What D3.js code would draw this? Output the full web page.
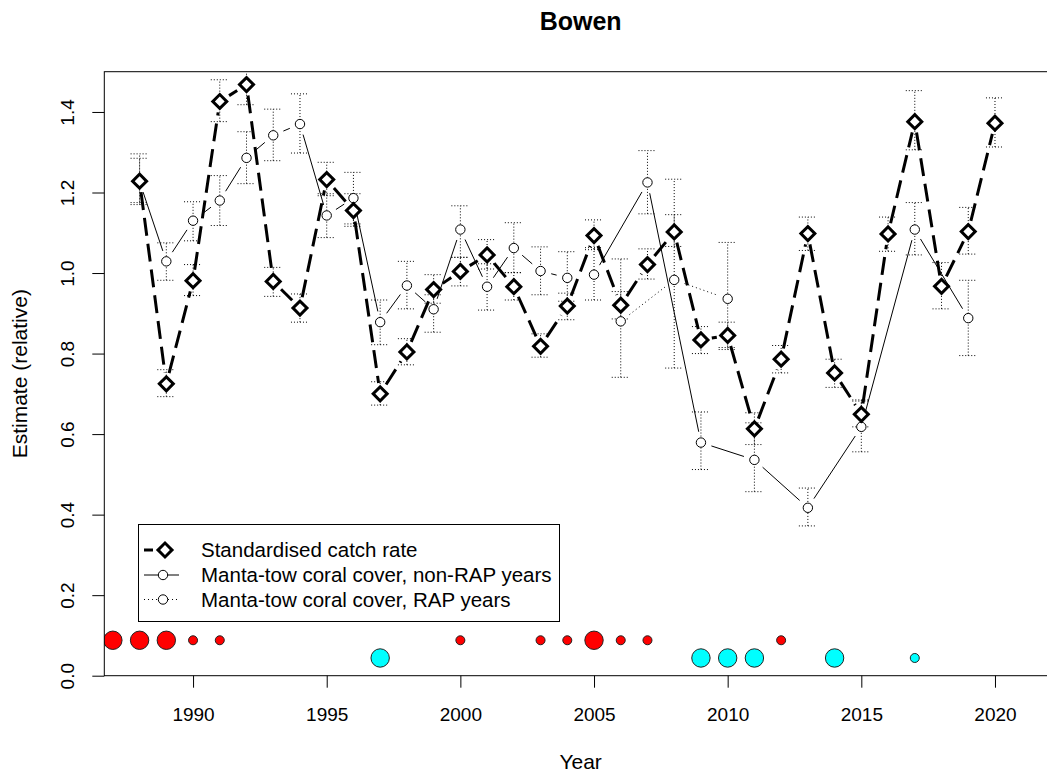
<!DOCTYPE html>
<html>
<head>
<meta charset="utf-8">
<script src="https://cdn.jsdelivr.net/npm/d3@7"></script>
<style>
  body { margin: 0; background: #fff; }
  svg { display: block; }
  text { font-family: "Liberation Sans", Arial, Helvetica, sans-serif; fill: #000; }
</style>
</head>
<body>
<svg id="chart" width="1047" height="772"></svg>
<script>
// ---- Data -------------------------------------------------------------
const catchYears = d3.range(1988, 2021);
const catchRate  = [1.228, 0.725, 0.981, 1.426, 1.468, 0.979, 0.913, 1.232, 1.155, 0.700, 0.804,
                    0.959, 1.004, 1.045, 0.966, 0.818, 0.918, 1.093, 0.920, 1.021, 1.102, 0.834,
                    0.845, 0.613, 0.786, 1.098, 0.752, 0.649, 1.097, 1.376, 0.967, 1.103, 1.372];
const catchLower = [1.175, 0.693, 0.944, 1.376, 1.418, 0.942, 0.878, 1.192, 1.116, 0.672, 0.772,
                    0.925, 0.968, 1.010, 0.933, 0.791, 0.884, 1.058, 0.886, 0.985, 1.066, 0.800,
                    0.810, 0.574, 0.752, 1.056, 0.716, 0.618, 1.054, 1.306, 0.911, 1.047, 1.313];
const catchUpper = [1.285, 0.760, 1.021, 1.480, 1.520, 1.014, 0.948, 1.275, 1.197, 0.730, 0.837,
                    0.996, 1.039, 1.083, 1.001, 0.849, 0.950, 1.132, 0.954, 1.060, 1.145, 0.867,
                    0.878, 0.653, 0.820, 1.139, 0.786, 0.682, 1.139, 1.453, 1.026, 1.163, 1.435];

const coralYears = [1988, 1989, 1990, 1991, 1992, 1993, 1994, 1995, 1996, 1997, 1998, 1999,
                    2000, 2001, 2002, 2003, 2004, 2005, 2006, 2007, 2008, 2009, 2010, 2011,
                    2013, 2015, 2017, 2019];
const coralCover = [1.227, 1.029, 1.130, 1.180, 1.286, 1.342, 1.370, 1.143, 1.186, 0.878, 0.969, 0.910,
                    1.108, 0.966, 1.062, 1.005, 0.988, 0.996, 0.880, 1.225, 0.983, 0.579, 0.936, 0.536,
                    0.417, 0.618, 1.108, 0.888];
const coralLower = [1.170, 0.982, 1.080, 1.118, 1.222, 1.279, 1.298, 1.088, 1.122, 0.822, 0.911, 0.853,
                    1.039, 0.908, 1.001, 0.946, 0.930, 0.933, 0.741, 1.147, 0.764, 0.512, 0.815, 0.457,
                    0.372, 0.556, 1.045, 0.795];
const coralUpper = [1.296, 1.075, 1.177, 1.242, 1.351, 1.407, 1.445, 1.197, 1.250, 0.933, 1.029, 0.946,
                    1.167, 1.023, 1.125, 1.065, 1.053, 1.063, 1.035, 1.304, 1.233, 0.655, 1.076, 0.628,
                    0.466, 0.685, 1.175, 0.982];
const rapYears = [2006, 2008, 2010];
// non-RAP survey line is drawn as two runs
const nonRapRuns = [[1988, 2004], [2005, 2019]];

// Event markers along the bottom of the plot (size class: 1 = small, 2 = large)
const redEventYears  = [1987, 1988, 1989, 1990, 1991, 2000, 2003, 2004, 2005, 2006, 2007, 2012];
const redEventSize   = [2, 2, 2, 1, 1, 1, 1, 1, 2, 1, 1, 1];
const redEventLevel  = 0.088;
const cyanEventYears = [1997, 2009, 2010, 2011, 2014, 2017];
const cyanEventSize  = [2, 2, 2, 2, 2, 1];
const cyanEventLevel = 0.044;

const xTicks = [1990, 1995, 2000, 2005, 2010, 2015, 2020];
const yTicks = [0, 0.2, 0.4, 0.6, 0.8, 1.0, 1.2, 1.4];
const xLimits = [1988, 2021];
const yLimits = [0, 1.5];

const legendLabels = ["Standardised catch rate",
                      "Manta-tow coral cover, non-RAP years",
                      "Manta-tow coral cover, RAP years"];

// ---- Layout -----------------------------------------------------------
const plot = { left: 104.3, right: 1057, top: 71.7, bottom: 675.7 };
const pad = (xLimits[1] - xLimits[0]) * 0.04;
const x = d3.scaleLinear().domain([xLimits[0] - pad, xLimits[1] + pad]).range([plot.left, plot.right]);
const y = d3.scaleLinear().domain(yLimits).range([plot.bottom, plot.top]);

const svg = d3.select("#chart");
svg.append("rect").attr("width", 1047).attr("height", 772).attr("fill", "#fff");

svg.append("defs").append("clipPath").attr("id", "plotClip")
  .append("rect")
  .attr("x", plot.left).attr("y", plot.top)
  .attr("width", plot.right - plot.left).attr("height", plot.bottom - plot.top);

const g = svg.append("g").attr("clip-path", "url(#plotClip)");

// ---- Error bars (dotted with dotted caps) ------------------------------
function errorBars(years, lo, hi) {
  const eb = g.append("g").attr("stroke", "#000").attr("stroke-width", 1)
    .attr("stroke-dasharray", "1,2").attr("fill", "none");
  years.forEach((yr, i) => {
    const cx = x(yr);
    eb.append("line").attr("x1", cx).attr("x2", cx).attr("y1", y(lo[i])).attr("y2", y(hi[i]));
    [lo[i], hi[i]].forEach(v => {
      eb.append("line").attr("x1", cx - 9).attr("x2", cx + 9).attr("y1", y(v)).attr("y2", y(v));
    });
  });
}
errorBars(catchYears, catchLower, catchUpper);
errorBars(coralYears, coralLower, coralUpper);

// ---- Line segments with gaps around the points ------------------------
function gappedSegments(pts, gap) {
  const segs = [];
  for (let i = 1; i < pts.length; i++) {
    const [x0, y0] = pts[i - 1], [x1, y1] = pts[i];
    const d = Math.hypot(x1 - x0, y1 - y0);
    if (d > 2 * gap) {
      const f = gap / d;
      segs.push([x0 + (x1 - x0) * f, y0 + (y1 - y0) * f, x1 - (x1 - x0) * f, y1 - (y1 - y0) * f]);
    }
  }
  return segs;
}
function drawSegments(pts, gap, style) {
  gappedSegments(pts, gap).forEach(s => {
    g.append("line")
      .attr("x1", s[0]).attr("y1", s[1]).attr("x2", s[2]).attr("y2", s[3])
      .attr("stroke", "#000").attr("stroke-width", style.width)
      .attr("stroke-dasharray", style.dash || null);
  });
}

const coralPts = coralYears.map((yr, i) => ({ yr, v: coralCover[i] }));
nonRapRuns.forEach(([a, b]) => {
  const pts = coralPts.filter(p => p.yr >= a && p.yr <= b && !rapYears.includes(p.yr))
    .map(p => [x(p.yr), y(p.v)]);
  drawSegments(pts, 11, { width: 1 });
});
drawSegments(coralPts.filter(p => rapYears.includes(p.yr)).map(p => [x(p.yr), y(p.v)]),
  11, { width: 1, dash: "1,3" });

const catchPts = catchYears.map((yr, i) => [x(yr), y(catchRate[i])]);
drawSegments(catchPts, 11, { width: 3, dash: "18,8" });

// ---- Points -----------------------------------------------------------
g.append("g").selectAll("circle").data(coralPts).join("circle")
  .attr("cx", d => x(d.yr)).attr("cy", d => y(d.v)).attr("r", 4.7)
  .attr("fill", "#fff").attr("stroke", "#000").attr("stroke-width", 1);

const diamond = d3.symbol().type(d3.symbolSquare).size(98);
g.append("g").selectAll("path").data(catchYears).join("path")
  .attr("d", diamond)
  .attr("transform", (d, i) => `translate(${x(d)},${y(catchRate[i])}) rotate(45)`)
  .attr("fill", "#fff").attr("stroke", "#000").attr("stroke-width", 3);

// ---- Event markers ----------------------------------------------------
const radius = s => (s === 2 ? 9.2 : 4.5);
g.append("g").selectAll("circle").data(redEventYears).join("circle")
  .attr("cx", d => x(d)).attr("cy", y(redEventLevel)).attr("r", (d, i) => radius(redEventSize[i]))
  .attr("fill", "#ff0000").attr("stroke", "#222").attr("stroke-width", 1);
g.append("g").selectAll("circle").data(cyanEventYears).join("circle")
  .attr("cx", d => x(d)).attr("cy", y(cyanEventLevel)).attr("r", (d, i) => radius(cyanEventSize[i]))
  .attr("fill", "#00ffff").attr("stroke", "#222").attr("stroke-width", 1);

// ---- Plot frame -------------------------------------------------------
svg.append("rect")
  .attr("x", plot.left).attr("y", plot.top)
  .attr("width", plot.right - plot.left).attr("height", plot.bottom - plot.top)
  .attr("fill", "none").attr("stroke", "#000").attr("stroke-width", 1);

// ---- Axes -------------------------------------------------------------
const xAxis = svg.append("g").attr("transform", `translate(0,${plot.bottom})`)
  .call(d3.axisBottom(x).tickValues(xTicks).tickFormat(d3.format("d")).tickSize(12).tickPadding(20));
xAxis.select(".domain").remove();
xAxis.selectAll("text").style("font-size", "19px").attr("fill", "#000");

const yAxis = svg.append("g").attr("transform", `translate(${plot.left},0)`)
  .call(d3.axisLeft(y).tickValues(yTicks).tickFormat(d3.format(".1f")).tickSize(12));
yAxis.select(".domain").remove();
yAxis.selectAll("text")
  .style("font-size", "19px").attr("fill", "#000")
  .attr("x", null).attr("dy", null)
  .attr("text-anchor", "middle")
  .attr("transform", "translate(-30,0) rotate(-90)");

// ---- Titles -----------------------------------------------------------
svg.append("text").attr("x", (plot.left + plot.right) / 2).attr("y", 30)
  .attr("text-anchor", "middle").style("font-size", "25px").style("font-weight", "bold")
  .text("Bowen");
svg.append("text").attr("x", (plot.left + plot.right) / 2).attr("y", 769)
  .attr("text-anchor", "middle").style("font-size", "21px").text("Year");
svg.append("text").attr("transform", `translate(27,${(plot.top + plot.bottom) / 2}) rotate(-90)`)
  .attr("text-anchor", "middle").style("font-size", "21px").text("Estimate (relative)");

// ---- Legend -----------------------------------------------------------
const lg = svg.append("g");
lg.append("rect").attr("x", 138.5).attr("y", 524.5).attr("width", 421).attr("height", 97)
  .attr("fill", "#fff").attr("stroke", "#000").attr("stroke-width", 1);
const rowY = [550, 575, 599.5];
const symX = 163;
// catch rate row
lg.append("line").attr("x1", 144).attr("x2", 153).attr("y1", rowY[0]).attr("y2", rowY[0])
  .attr("stroke", "#000").attr("stroke-width", 3);
lg.append("path").attr("d", diamond)
  .attr("transform", `translate(${symX + 2},${rowY[0]}) rotate(45)`)
  .attr("fill", "#fff").attr("stroke", "#000").attr("stroke-width", 3);
// coral rows
[[rowY[1], null], [rowY[2], "1,3"]].forEach(([ry, dash]) => {
  lg.append("line").attr("x1", 144).attr("x2", 179).attr("y1", ry).attr("y2", ry)
    .attr("stroke", "#000").attr("stroke-width", 1).attr("stroke-dasharray", dash);
  lg.append("circle").attr("cx", symX).attr("cy", ry).attr("r", 4.7)
    .attr("fill", "#fff").attr("stroke", "#000").attr("stroke-width", 1);
});
legendLabels.forEach((t, i) => {
  lg.append("text").attr("x", 201).attr("y", rowY[i]).attr("dy", "0.35em")
    .style("font-size", "20.5px").text(t);
});
</script>
</body>
</html>
